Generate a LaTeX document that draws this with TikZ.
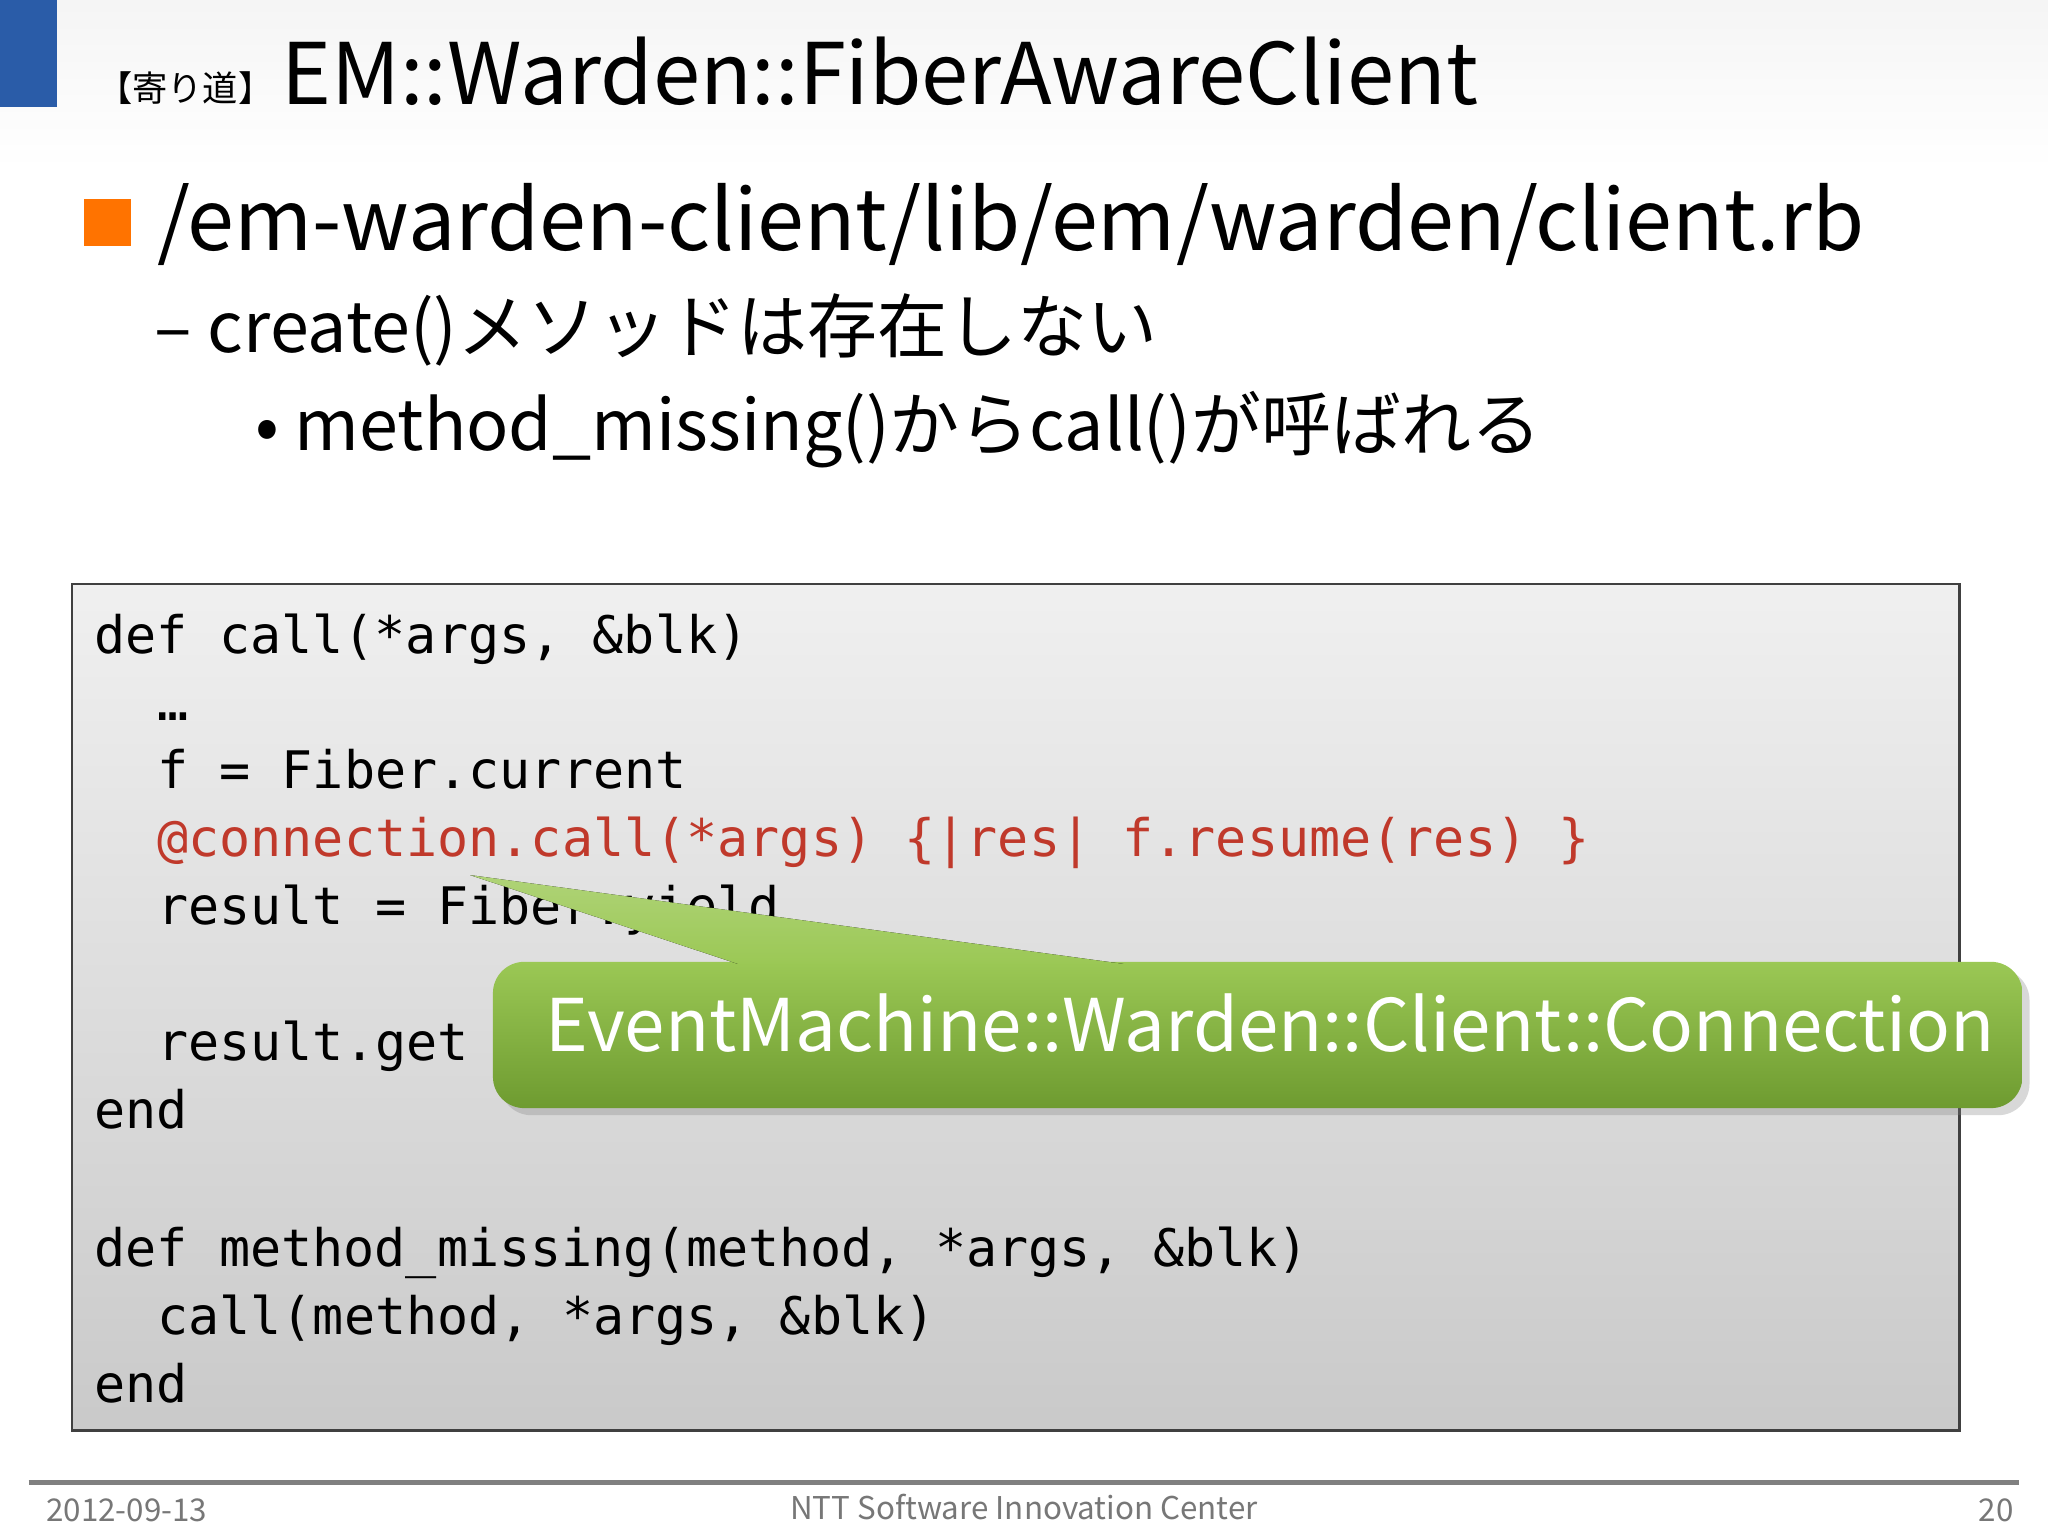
\documentclass[tikz,border=0pt]{standalone}
\usepackage{fontspec}
\setmainfont{Noto Sans CJK JP}
\setmonofont{DejaVu Sans Mono}
\usetikzlibrary{shadows}
\definecolor{codered}{HTML}{C0392B}
\definecolor{foot}{HTML}{777777}
\definecolor{gtop}{HTML}{9BC855}
\definecolor{gbot}{HTML}{6E9B30}
\definecolor{tblue}{HTML}{2A5CA8}
\begin{document}
\begin{tikzpicture}[x=0.5pt,y=-0.5pt,
  code/.style={anchor=base west,inner sep=0,font=\ttfamily\fontsize{19.8}{22}\selectfont},
  foottxt/.style={anchor=base,inner sep=0,text=foot,font=\fontsize{12}{13}\selectfont}]
\useasboundingbox (0,0) rectangle (1568,1176);
\fill[white] (0,0) rectangle (1568,1176);
\fill[top color=gray!8,bottom color=white] (0,0) rectangle (1568,130);
\fill[tblue] (0,0) rectangle (44,82);
\node[anchor=base west,inner sep=0,font=\fontsize{13.5}{15}\selectfont] (tag) at (74,78) {【寄り道】};
\node[anchor=base west,inner sep=0,font=\fontsize{32.5}{36}\selectfont] (title) at (215,80) {EM::Warden::FiberAwareClient};
\fill[orange!90!red] (64,152) rectangle (100,188);
\node[anchor=base west,inner sep=0,font=\fontsize{32.3}{34}\selectfont] (l1) at (120,192) {/em-warden-client/lib/em/warden/client.rb};
\node[anchor=base west,inner sep=0,font=\fontsize{26.8}{28}\selectfont] (l2) at (118,270) {– create()メソッドは存在しない};
\node[anchor=base west,inner sep=0,font=\fontsize{26.8}{28}\selectfont] (l3) at (195,345) {• method\_missing()からcall()が呼ばれる};
\draw[draw=black!75,line width=1pt,top color=gray!12,bottom color=gray!42] (55,447) rectangle (1500,1095);
\node[code] (c1) at (72,500) {def call(*args, \&blk)};
\node[code] (c2) at (120,552) {…};
\node[code] (c3) at (120,604) {f = Fiber.current};
\node[code,text=codered] (c4) at (120,656) {@connection.call(*args) \{|res| f.resume(res) \}};
\node[code] (c5) at (120,708) {result = Fiber.yield};
\node[code] (c6) at (120,812) {result.get};
\node[code] (c7) at (72,864) {end};
\node[code] (c8) at (72,970) {def method\_missing(method, *args, \&blk)};
\node[code] (c9) at (120,1022) {call(method, *args, \&blk)};
\node[code] (c10) at (72,1074) {end};
\node[draw=none,fill=none,rounded corners=12pt,minimum width=585.5pt,minimum height=56pt,
  top color=gtop,bottom color=gbot,drop shadow={opacity=0.3},anchor=north west] (box) at (377,736) {};
\fill[top color=gtop!80!white,bottom color=gtop] (360,670) -- (860,738) -- (565,738) -- cycle;
\node[anchor=base west,inner sep=0,text=white,font=\fontsize{27.8}{30}\selectfont] (cap) at (417,805) {EventMachine::Warden::Client::Connection};
\draw[gray,line width=2pt] (22,1135) -- (1546,1135);
\node[foottxt,anchor=base west] (d) at (35,1165) {2012-09-13};
\node[foottxt] (n) at (784,1163) {NTT Software Innovation Center};
\node[foottxt,anchor=base east] (p) at (1542,1165) {20};
\end{tikzpicture}
\end{document}
